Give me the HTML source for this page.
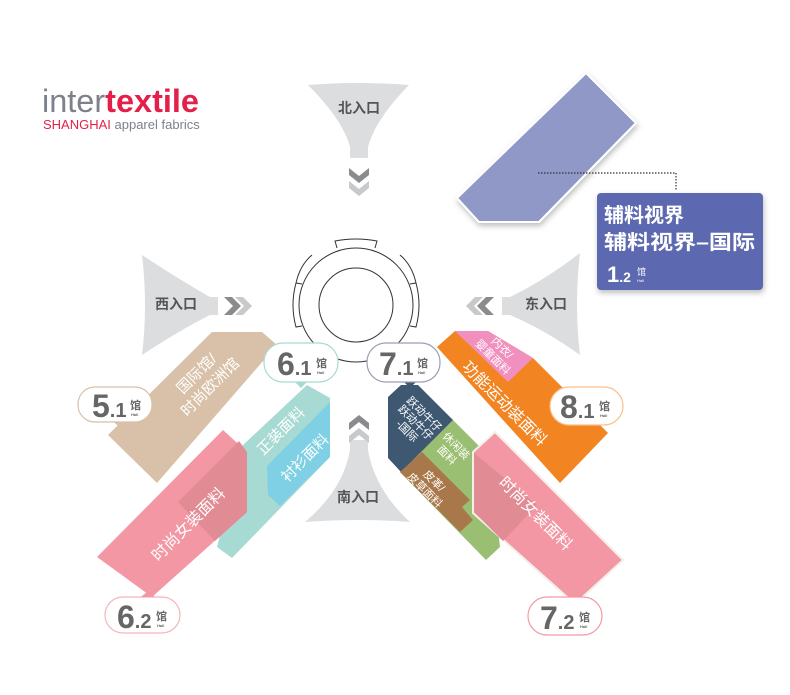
<!DOCTYPE html>
<html><head><meta charset="utf-8"><style>
html,body{margin:0;padding:0;background:#fff;}
svg{display:block;font-family:"Liberation Sans","Noto Sans CJK SC",sans-serif;}
</style></head><body>
<svg width="790" height="695" viewBox="0 0 790 695" xmlns="http://www.w3.org/2000/svg">
<defs>
<filter id="sh" x="-20%" y="-20%" width="140%" height="140%"><feDropShadow dx="1" dy="3" stdDeviation="3" flood-color="#000" flood-opacity="0.25"/></filter>
</defs>
<!-- logo -->
<text x="42" y="112" font-size="32" fill="#7d828a" textLength="157" lengthAdjust="spacingAndGlyphs">inter<tspan fill="#e4204a" font-weight="bold">textile</tspan></text>
<text x="43" y="129" font-size="13" fill="#e4204a">SHANGHAI <tspan fill="#7d828a">apparel fabrics</tspan></text>

<!-- north entrance -->
<path d="M308,85 Q358,81 409,85 Q375,120 368,147 L368,158 L350,158 L350,147 Q343,120 308,85 Z" fill="#dcdddf"/>
<text x="359" y="113" font-size="14" font-weight="bold" fill="#555" text-anchor="middle">北入口</text>
<path d="M349,168 L359,176 L369,168 L369,175 L359,183 L349,175 Z" fill="#8a8b8d"/>
<path d="M349,181 L359,189 L369,181 L369,188 L359,196 L349,188 Z" fill="#c8c9cb"/>

<!-- west entrance -->
<path d="M142,255 Q180,280 210,297 L218,297 L218,315 L210,315 Q180,330 142,355 Q148,305 142,255 Z" fill="#dcdddf"/>
<text x="176" y="309" font-size="14" font-weight="bold" fill="#555" text-anchor="middle">西入口</text>
<path d="M224,297 L232,297 L241,306 L232,315 L224,315 L233,306 Z" fill="#8a8b8d"/>
<path d="M235,297 L243,297 L252,306 L243,315 L235,315 L244,306 Z" fill="#c8c9cb"/>

<!-- east entrance -->
<path d="M580,253 Q545,280 510,297 L502,297 L502,315 L510,315 Q545,330 580,355 Q574,305 580,253 Z" fill="#dcdddf"/>
<text x="546" y="309" font-size="14" font-weight="bold" fill="#555" text-anchor="middle">东入口</text>
<path d="M494,297 L486,297 L477,306 L486,315 L494,315 L485,306 Z" fill="#8a8b8d"/>
<path d="M483,297 L475,297 L466,306 L475,315 L483,315 L474,306 Z" fill="#c8c9cb"/>

<!-- south entrance -->
<path d="M350,440 L368,440 L368,450 Q375,490 410,522 Q358,518 305,522 Q343,490 350,450 Z" fill="#dcdddf"/>
<text x="358" y="502" font-size="14" font-weight="bold" fill="#555" text-anchor="middle">南入口</text>
<path d="M349,423 L359,415 L369,423 L369,430 L359,422 L349,430 Z" fill="#8a8b8d"/>
<path d="M349,436 L359,428 L369,436 L369,443 L359,435 L349,443 Z" fill="#c8c9cb"/>

<!-- center -->
<g fill="none" stroke="#333" stroke-width="1">
<circle cx="356" cy="305" r="57"/>
<circle cx="356" cy="305" r="37"/>
<path d="M337,248 L335,241 Q356,237 377,241 L375,248"/>
<path d="M302,284 L296,283 Q290,305 296,327 L302,326"/>
<path d="M410,284 L416,283 Q422,305 416,327 L410,326"/>
<path d="M296,283 Q300,265 312,255"/>
<path d="M416,283 Q412,265 400,255"/>
</g>

<!-- purple 1.2 -->
<polygon points="586,73 636,123 539,222 479,222 457,198" fill="#9098c8" stroke="#fff" stroke-width="2" filter="url(#sh)"/>
<path d="M538,173 L676,173 L676,190" fill="none" stroke="#333" stroke-width="1.2" stroke-dasharray="1.5,1.5"/>
<rect x="597" y="193" width="166" height="97" rx="4" fill="#5b67af" filter="url(#sh)"/>
<text x="604" y="222" font-size="20" font-weight="bold" fill="#fff">辅料视界</text>
<text x="604" y="249" font-size="20" font-weight="bold" fill="#fff" textLength="151" lengthAdjust="spacingAndGlyphs">辅料视界–国际</text>
<text x="607" y="282" font-size="22" font-weight="bold" fill="#fff">1<tspan font-size="14">.2</tspan></text>
<text x="637" y="275" font-size="9" fill="#fff">馆</text>
<text x="637" y="282" font-size="4" fill="#fff">Hall</text>

<!-- left group -->
<polygon points="212,332 262,332 277,345 157,483 108,435" fill="#d8c1a8"/>
<polygon points="243,445 307,385 330,398 330,457 232,558 217,547" fill="#a8dad4"/>
<polygon points="267,466 330,402 330,457 280,506 268,495" fill="#7fd0e4"/>
<polygon points="223,430 247,452 247,512 152,597 97,557" fill="#f297a3"/>
<polygon points="178,502 239,441 247,452 247,512 215,541" fill="#e18b94"/>

<g fill="#fff" font-size="15" text-anchor="middle">
<text transform="translate(203,380) rotate(-45)"><tspan x="0" y="-4">国际馆/</tspan><tspan x="0" y="15">时尚欧洲馆</tspan></text>
<text transform="translate(281,431) rotate(-45)" y="5">正装面料</text>
<text transform="translate(305,458) rotate(-45)" y="5">衬衫面料</text>
<text transform="translate(188,524) rotate(-45)" y="6" font-size="16">时尚女装面料</text>
</g>

<!-- right group -->
<polygon points="437,347 455,331 488,331 533,358 608,433 560,483" fill="#f28521"/>
<polygon points="455,331 488,331 533,358 508,382" fill="#f190bf"/>
<polygon points="453,420 490,457 500,547 486,560 400,472" fill="#9abf73"/>
<polygon points="388,397 401,385 418,385 453,420 401,472 388,458" fill="#3e5872"/>
<polygon points="400,472 422,452 470,500 462,507 473,520 460,532" fill="#a9784a"/>
<polygon points="473,452 495,432 623,560 575,604 473,513" fill="#f297a3" stroke="#f3f0e8" stroke-width="2"/>
<polygon points="474,453 537,505 503,541 474,512" fill="#e18b94"/>

<g fill="#fff" text-anchor="middle">
<text transform="translate(498,352) rotate(45)" font-size="11"><tspan x="0" y="-2">内衣/</tspan><tspan x="0" y="11">婴童面料</tspan></text>
<text transform="translate(505,403) rotate(45)" y="6" font-size="16">功能运动装面料</text>
<text transform="translate(415,423) rotate(45)" font-size="11"><tspan x="0" y="-9">跃动牛仔</tspan><tspan x="0" y="3">跃动牛仔</tspan><tspan x="0" y="15">-国际</tspan></text>
<text transform="translate(452,450) rotate(45)" font-size="11"><tspan x="0" y="-2">休闲装</tspan><tspan x="0" y="11">面料</tspan></text>
<text transform="translate(430,485) rotate(45)" font-size="11"><tspan x="0" y="-2">皮革/</tspan><tspan x="0" y="11">皮草面料</tspan></text>
<text transform="translate(536,513) rotate(45)" y="6" font-size="16">时尚女装面料</text>
</g>

<!-- bubbles -->
<g font-weight="bold" fill="#666">
<g>
<polygon points="113,421 127,421 120,428" fill="#d8c1a8"/>
<rect x="78" y="387" width="74" height="35" rx="17" fill="#fff" stroke="#d8c1a8" stroke-width="1.2"/>
<text x="92" y="417" font-size="32">5<tspan font-size="20">.1</tspan></text>
<text x="130" y="409" font-size="11">馆</text><text x="131" y="416" font-size="4">Hall</text>
</g>
<g>
<polygon points="294,381 308,381 301,388" fill="#a8dad4"/>
<rect x="264" y="343" width="74" height="39" rx="19" fill="#fff" stroke="#a8dad4" stroke-width="1.2"/>
<text x="277" y="375" font-size="32">6<tspan font-size="20">.1</tspan></text>
<text x="316" y="367" font-size="11">馆</text><text x="317" y="374" font-size="4">Hall</text>
</g>
<g>
<polygon points="403,381 417,381 410,388" fill="#3e5872"/>
<rect x="367" y="343" width="73" height="39" rx="19" fill="#fff" stroke="#9aa0b0" stroke-width="1.2"/>
<text x="379" y="375" font-size="32">7<tspan font-size="20">.1</tspan></text>
<text x="417" y="367" font-size="11">馆</text><text x="418" y="374" font-size="4">Hall</text>
</g>
<g>
<polygon points="587,424 601,424 594,431" fill="#f28521"/>
<rect x="550" y="387" width="73" height="38" rx="19" fill="#fff" stroke="#f8c08a" stroke-width="1.2"/>
<text x="560" y="418" font-size="32">8<tspan font-size="20">.1</tspan></text>
<text x="599" y="410" font-size="11">馆</text><text x="600" y="417" font-size="4">Hall</text>
</g>
<g>
<rect x="105" y="597" width="75" height="36" rx="18" fill="#fff" stroke="#f4b4bc" stroke-width="1.2"/>
<polygon points="141,597 155,597 148,591" fill="#f297a3"/>
<text x="117" y="628" font-size="32">6<tspan font-size="20">.2</tspan></text>
<text x="156" y="620" font-size="11">馆</text><text x="157" y="627" font-size="4">Hall</text>
</g>
<g>
<rect x="528" y="597" width="74" height="38" rx="19" fill="#fff" stroke="#f29aa6" stroke-width="1.2"/>
<polygon points="568,597 582,597 575,591" fill="#f297a3"/>
<text x="540" y="629" font-size="32">7<tspan font-size="20">.2</tspan></text>
<text x="579" y="621" font-size="11">馆</text><text x="580" y="628" font-size="4">Hall</text>
</g>
</g>
</svg>
</body></html>
